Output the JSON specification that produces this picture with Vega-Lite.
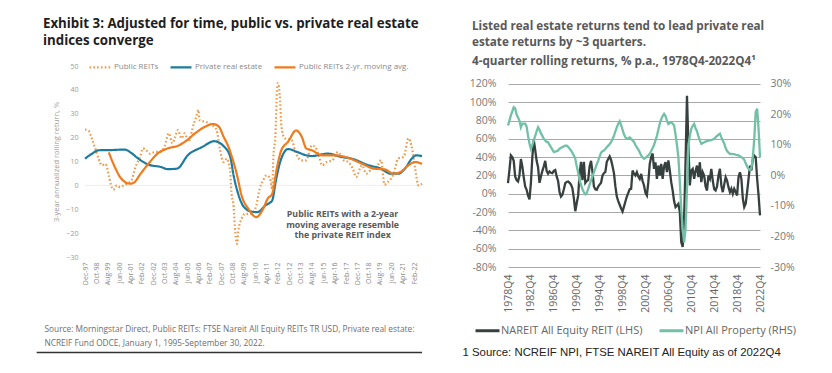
{
  "$schema": "https://vega.github.io/schema/vega-lite/v6.json",
  "background": "white",
  "padding": {"left": 35, "top": 16, "right": 0, "bottom": 0},
  "spacing": 35,
  "resolve": {"scale": {"color": "independent", "strokeDash": "independent"}, "legend": {"color": "independent", "strokeDash": "independent"}},
  "config": {
    "view": {"stroke": null},
    "font": "Open Sans",
    "axis": {"labelFont": "Open Sans", "titleFont": "Open Sans"},
    "legend": {"labelFont": "Open Sans"},
    "title": {"font": "Open Sans"}
  },
  "datasets": {
    "left": [
      {"date":"1997-12-01","series":"Public REITs","value":23.4},
      {"date":"1998-03-01","series":"Public REITs","value":23},
      {"date":"1998-06-01","series":"Public REITs","value":19.7},
      {"date":"1998-09-01","series":"Public REITs","value":15.5},
      {"date":"1998-12-01","series":"Public REITs","value":11.2},
      {"date":"1999-03-01","series":"Public REITs","value":8.4},
      {"date":"1999-06-01","series":"Public REITs","value":9.0},
      {"date":"1999-09-01","series":"Public REITs","value":4.2},
      {"date":"1999-11-01","series":"Public REITs","value":0},
      {"date":"2000-01-01","series":"Public REITs","value":-1.8},
      {"date":"2000-04-01","series":"Public REITs","value":0},
      {"date":"2000-07-01","series":"Public REITs","value":-0.7},
      {"date":"2000-10-01","series":"Public REITs","value":0},
      {"date":"2001-01-01","series":"Public REITs","value":0.7},
      {"date":"2001-05-01","series":"Public REITs","value":2.1},
      {"date":"2001-08-01","series":"Public REITs","value":7},
      {"date":"2002-01-01","series":"Public REITs","value":12.6},
      {"date":"2002-03-01","series":"Public REITs","value":15.5},
      {"date":"2002-06-01","series":"Public REITs","value":14.7},
      {"date":"2002-09-01","series":"Public REITs","value":13.3},
      {"date":"2003-02-01","series":"Public REITs","value":14},
      {"date":"2003-06-01","series":"Public REITs","value":14},
      {"date":"2003-10-01","series":"Public REITs","value":16.2},
      {"date":"2004-02-01","series":"Public REITs","value":21.8},
      {"date":"2004-05-01","series":"Public REITs","value":17.6},
      {"date":"2004-07-01","series":"Public REITs","value":19.7},
      {"date":"2004-10-01","series":"Public REITs","value":23.2},
      {"date":"2005-01-01","series":"Public REITs","value":19.7},
      {"date":"2005-04-01","series":"Public REITs","value":21.8},
      {"date":"2005-07-01","series":"Public REITs","value":18.3},
      {"date":"2005-12-01","series":"Public REITs","value":26},
      {"date":"2006-02-01","series":"Public REITs","value":28.8},
      {"date":"2006-04-01","series":"Public REITs","value":31.6},
      {"date":"2006-05-01","series":"Public REITs","value":27.4},
      {"date":"2006-11-01","series":"Public REITs","value":26.5},
      {"date":"2007-04-01","series":"Public REITs","value":25.3},
      {"date":"2007-08-01","series":"Public REITs","value":23.2},
      {"date":"2007-11-01","series":"Public REITs","value":15},
      {"date":"2008-02-01","series":"Public REITs","value":9.8},
      {"date":"2008-05-01","series":"Public REITs","value":11.2},
      {"date":"2008-08-01","series":"Public REITs","value":5.6},
      {"date":"2008-09-01","series":"Public REITs","value":-2.8},
      {"date":"2008-11-01","series":"Public REITs","value":-9.1},
      {"date":"2008-12-01","series":"Public REITs","value":-16.8},
      {"date":"2009-02-01","series":"Public REITs","value":-24.5},
      {"date":"2009-03-01","series":"Public REITs","value":-19.6},
      {"date":"2009-06-01","series":"Public REITs","value":-14},
      {"date":"2009-09-01","series":"Public REITs","value":-11.9},
      {"date":"2010-03-01","series":"Public REITs","value":-11.9},
      {"date":"2010-07-01","series":"Public REITs","value":-8.4},
      {"date":"2010-10-01","series":"Public REITs","value":-1.4},
      {"date":"2011-01-01","series":"Public REITs","value":2.1},
      {"date":"2011-04-01","series":"Public REITs","value":4.2},
      {"date":"2011-07-01","series":"Public REITs","value":3.0},
      {"date":"2011-09-01","series":"Public REITs","value":-1.4},
      {"date":"2011-10-01","series":"Public REITs","value":11.2},
      {"date":"2011-12-01","series":"Public REITs","value":22.5},
      {"date":"2012-01-01","series":"Public REITs","value":37.9},
      {"date":"2012-02-01","series":"Public REITs","value":42.8},
      {"date":"2012-04-01","series":"Public REITs","value":35.1},
      {"date":"2012-05-01","series":"Public REITs","value":25.3},
      {"date":"2012-08-01","series":"Public REITs","value":19.7},
      {"date":"2013-02-01","series":"Public REITs","value":19},
      {"date":"2013-06-01","series":"Public REITs","value":13.3},
      {"date":"2013-11-01","series":"Public REITs","value":10.5},
      {"date":"2014-03-01","series":"Public REITs","value":10.5},
      {"date":"2014-08-01","series":"Public REITs","value":16.8},
      {"date":"2014-11-01","series":"Public REITs","value":16},
      {"date":"2015-02-01","series":"Public REITs","value":12.6},
      {"date":"2015-05-01","series":"Public REITs","value":8.4},
      {"date":"2015-09-01","series":"Public REITs","value":9.8},
      {"date":"2016-02-01","series":"Public REITs","value":10.5},
      {"date":"2016-07-01","series":"Public REITs","value":14},
      {"date":"2016-12-01","series":"Public REITs","value":10.5},
      {"date":"2017-04-01","series":"Public REITs","value":9.8},
      {"date":"2017-08-01","series":"Public REITs","value":7},
      {"date":"2017-11-01","series":"Public REITs","value":3.5},
      {"date":"2018-04-01","series":"Public REITs","value":8.4},
      {"date":"2018-08-01","series":"Public REITs","value":4.9},
      {"date":"2019-01-01","series":"Public REITs","value":7},
      {"date":"2019-05-01","series":"Public REITs","value":7.7},
      {"date":"2019-09-01","series":"Public REITs","value":10.5},
      {"date":"2019-12-01","series":"Public REITs","value":0.3},
      {"date":"2020-03-01","series":"Public REITs","value":1.4},
      {"date":"2020-08-01","series":"Public REITs","value":4.9},
      {"date":"2020-12-01","series":"Public REITs","value":11.2},
      {"date":"2021-05-01","series":"Public REITs","value":12},
      {"date":"2021-09-01","series":"Public REITs","value":19.7},
      {"date":"2021-12-01","series":"Public REITs","value":16},
      {"date":"2022-03-01","series":"Public REITs","value":7},
      {"date":"2022-06-01","series":"Public REITs","value":0},
      {"date":"2022-09-01","series":"Public REITs","value":0.7},
      {"date":"1997-12-01","series":"Private real estate","value":11.2},
      {"date":"1998-06-01","series":"Private real estate","value":13.2},
      {"date":"1998-12-01","series":"Private real estate","value":14.7},
      {"date":"1999-11-01","series":"Private real estate","value":14.8},
      {"date":"2000-11-01","series":"Private real estate","value":15.0},
      {"date":"2001-05-01","series":"Private real estate","value":13.5},
      {"date":"2001-11-01","series":"Private real estate","value":11.2},
      {"date":"2002-08-01","series":"Private real estate","value":8.7},
      {"date":"2003-07-01","series":"Private real estate","value":7.7},
      {"date":"2004-01-01","series":"Private real estate","value":6.8},
      {"date":"2004-09-01","series":"Private real estate","value":7.0},
      {"date":"2005-07-01","series":"Private real estate","value":12.8},
      {"date":"2006-07-01","series":"Private real estate","value":16.0},
      {"date":"2007-06-01","series":"Private real estate","value":18.5},
      {"date":"2008-02-01","series":"Private real estate","value":16.5},
      {"date":"2008-08-01","series":"Private real estate","value":12.0},
      {"date":"2008-11-01","series":"Private real estate","value":4.0},
      {"date":"2009-03-01","series":"Private real estate","value":-3.5},
      {"date":"2009-08-01","series":"Private real estate","value":-9.0},
      {"date":"2010-03-01","series":"Private real estate","value":-11.0},
      {"date":"2010-08-01","series":"Private real estate","value":-11.2},
      {"date":"2011-03-01","series":"Private real estate","value":-8.4},
      {"date":"2011-09-01","series":"Private real estate","value":-6.3},
      {"date":"2011-12-01","series":"Private real estate","value":1.4},
      {"date":"2012-04-01","series":"Private real estate","value":9.8},
      {"date":"2012-11-01","series":"Private real estate","value":15.2},
      {"date":"2013-07-01","series":"Private real estate","value":14.0},
      {"date":"2014-03-01","series":"Private real estate","value":12.6},
      {"date":"2014-08-01","series":"Private real estate","value":12.3},
      {"date":"2015-10-01","series":"Private real estate","value":13.3},
      {"date":"2016-10-01","series":"Private real estate","value":11.9},
      {"date":"2017-07-01","series":"Private real estate","value":11.2},
      {"date":"2018-10-01","series":"Private real estate","value":8.4},
      {"date":"2019-09-01","series":"Private real estate","value":7.0},
      {"date":"2020-05-01","series":"Private real estate","value":4.9},
      {"date":"2020-12-01","series":"Private real estate","value":4.9},
      {"date":"2021-06-01","series":"Private real estate","value":7.0},
      {"date":"2021-12-01","series":"Private real estate","value":11.2},
      {"date":"2022-04-01","series":"Private real estate","value":12.6},
      {"date":"2022-09-01","series":"Private real estate","value":12.2},
      {"date":"1999-09-01","series":"Public REITs 2-yr. moving avg.","value":13.8},
      {"date":"2000-03-01","series":"Public REITs 2-yr. moving avg.","value":7.0},
      {"date":"2000-08-01","series":"Public REITs 2-yr. moving avg.","value":2.8},
      {"date":"2001-04-01","series":"Public REITs 2-yr. moving avg.","value":0.7},
      {"date":"2001-07-01","series":"Public REITs 2-yr. moving avg.","value":1.1},
      {"date":"2002-01-01","series":"Public REITs 2-yr. moving avg.","value":4.9},
      {"date":"2002-08-01","series":"Public REITs 2-yr. moving avg.","value":9.1},
      {"date":"2003-04-01","series":"Public REITs 2-yr. moving avg.","value":13.3},
      {"date":"2004-01-01","series":"Public REITs 2-yr. moving avg.","value":15.5},
      {"date":"2004-10-01","series":"Public REITs 2-yr. moving avg.","value":16.6},
      {"date":"2005-05-01","series":"Public REITs 2-yr. moving avg.","value":18.6},
      {"date":"2006-01-01","series":"Public REITs 2-yr. moving avg.","value":21.8},
      {"date":"2006-10-01","series":"Public REITs 2-yr. moving avg.","value":24.6},
      {"date":"2007-05-01","series":"Public REITs 2-yr. moving avg.","value":25.7},
      {"date":"2007-10-01","series":"Public REITs 2-yr. moving avg.","value":24.6},
      {"date":"2008-02-01","series":"Public REITs 2-yr. moving avg.","value":20.5},
      {"date":"2008-07-01","series":"Public REITs 2-yr. moving avg.","value":15.5},
      {"date":"2008-09-01","series":"Public REITs 2-yr. moving avg.","value":12.6},
      {"date":"2009-02-01","series":"Public REITs 2-yr. moving avg.","value":4.2},
      {"date":"2009-06-01","series":"Public REITs 2-yr. moving avg.","value":-4.2},
      {"date":"2009-12-01","series":"Public REITs 2-yr. moving avg.","value":-9.8},
      {"date":"2010-07-01","series":"Public REITs 2-yr. moving avg.","value":-13.3},
      {"date":"2011-01-01","series":"Public REITs 2-yr. moving avg.","value":-9.8},
      {"date":"2011-05-01","series":"Public REITs 2-yr. moving avg.","value":-5.6},
      {"date":"2011-09-01","series":"Public REITs 2-yr. moving avg.","value":-3.5},
      {"date":"2012-01-01","series":"Public REITs 2-yr. moving avg.","value":7.0},
      {"date":"2012-05-01","series":"Public REITs 2-yr. moving avg.","value":14.7},
      {"date":"2012-11-01","series":"Public REITs 2-yr. moving avg.","value":18.3},
      {"date":"2013-06-01","series":"Public REITs 2-yr. moving avg.","value":23.0},
      {"date":"2013-11-01","series":"Public REITs 2-yr. moving avg.","value":20.4},
      {"date":"2014-03-01","series":"Public REITs 2-yr. moving avg.","value":15.5},
      {"date":"2014-08-01","series":"Public REITs 2-yr. moving avg.","value":14.7},
      {"date":"2015-05-01","series":"Public REITs 2-yr. moving avg.","value":12.6},
      {"date":"2016-04-01","series":"Public REITs 2-yr. moving avg.","value":12.6},
      {"date":"2017-04-01","series":"Public REITs 2-yr. moving avg.","value":11.5},
      {"date":"2018-04-01","series":"Public REITs 2-yr. moving avg.","value":9.1},
      {"date":"2019-03-01","series":"Public REITs 2-yr. moving avg.","value":7.0},
      {"date":"2019-12-01","series":"Public REITs 2-yr. moving avg.","value":6.7},
      {"date":"2020-08-01","series":"Public REITs 2-yr. moving avg.","value":4.9},
      {"date":"2021-02-01","series":"Public REITs 2-yr. moving avg.","value":5.6},
      {"date":"2021-09-01","series":"Public REITs 2-yr. moving avg.","value":8.4},
      {"date":"2022-03-01","series":"Public REITs 2-yr. moving avg.","value":9.8},
      {"date":"2022-09-01","series":"Public REITs 2-yr. moving avg.","value":9.0}
    ],
    "right": [
      {"quarter":"1978Q4","reit":11.6,"npi":16.4},
      {"quarter":"1979Q1","reit":26,"npi":18},
      {"quarter":"1979Q2","reit":42,"npi":19.7},
      {"quarter":"1979Q3","reit":40,"npi":21},
      {"quarter":"1979Q4","reit":36,"npi":22.4},
      {"quarter":"1980Q1","reit":19,"npi":22},
      {"quarter":"1980Q2","reit":15,"npi":20},
      {"quarter":"1980Q3","reit":13.5,"npi":19},
      {"quarter":"1980Q4","reit":20,"npi":18},
      {"quarter":"1981Q1","reit":38,"npi":15.8},
      {"quarter":"1981Q2","reit":30,"npi":17},
      {"quarter":"1981Q3","reit":18,"npi":17},
      {"quarter":"1981Q4","reit":8,"npi":17},
      {"quarter":"1982Q1","reit":4.4,"npi":16},
      {"quarter":"1982Q2","reit":-2,"npi":13},
      {"quarter":"1982Q3","reit":-6,"npi":10.5},
      {"quarter":"1982Q4","reit":12,"npi":8.7},
      {"quarter":"1983Q1","reit":40,"npi":10},
      {"quarter":"1983Q2","reit":59,"npi":11.5},
      {"quarter":"1983Q3","reit":48,"npi":13},
      {"quarter":"1983Q4","reit":36,"npi":14.5},
      {"quarter":"1984Q1","reit":29,"npi":15.8},
      {"quarter":"1984Q2","reit":12,"npi":15},
      {"quarter":"1984Q3","reit":19,"npi":13.8},
      {"quarter":"1984Q4","reit":25,"npi":13},
      {"quarter":"1985Q1","reit":30,"npi":12},
      {"quarter":"1985Q2","reit":36,"npi":11.5},
      {"quarter":"1985Q3","reit":25,"npi":11},
      {"quarter":"1985Q4","reit":22,"npi":10.9},
      {"quarter":"1986Q1","reit":24.4,"npi":10},
      {"quarter":"1986Q2","reit":23,"npi":9.3},
      {"quarter":"1986Q3","reit":22.6,"npi":8.5},
      {"quarter":"1986Q4","reit":25,"npi":7.7},
      {"quarter":"1987Q1","reit":26,"npi":7.8},
      {"quarter":"1987Q2","reit":19,"npi":8},
      {"quarter":"1987Q3","reit":14,"npi":8.2},
      {"quarter":"1987Q4","reit":2,"npi":8.8},
      {"quarter":"1988Q1","reit":-3,"npi":9.1},
      {"quarter":"1988Q2","reit":-1,"npi":9.3},
      {"quarter":"1988Q3","reit":5,"npi":9.6},
      {"quarter":"1988Q4","reit":11.6,"npi":9.8},
      {"quarter":"1989Q1","reit":13,"npi":9.8},
      {"quarter":"1989Q2","reit":13.5,"npi":9.4},
      {"quarter":"1989Q3","reit":12,"npi":8.8},
      {"quarter":"1989Q4","reit":10,"npi":8.2},
      {"quarter":"1990Q1","reit":6,"npi":7.4},
      {"quarter":"1990Q2","reit":-5,"npi":6.6},
      {"quarter":"1990Q3","reit":-19,"npi":5.5},
      {"quarter":"1990Q4","reit":-10,"npi":3},
      {"quarter":"1991Q1","reit":-2,"npi":1},
      {"quarter":"1991Q2","reit":22,"npi":-1.6},
      {"quarter":"1991Q3","reit":35,"npi":-3},
      {"quarter":"1991Q4","reit":15,"npi":-4.5},
      {"quarter":"1992Q1","reit":35,"npi":-5.5},
      {"quarter":"1992Q2","reit":12,"npi":-6.2},
      {"quarter":"1992Q3","reit":14,"npi":-5.8},
      {"quarter":"1992Q4","reit":15,"npi":-4.4},
      {"quarter":"1993Q1","reit":30,"npi":-3},
      {"quarter":"1993Q2","reit":36,"npi":-1.6},
      {"quarter":"1993Q3","reit":24,"npi":-0.2},
      {"quarter":"1993Q4","reit":8,"npi":1},
      {"quarter":"1994Q1","reit":5,"npi":2.3},
      {"quarter":"1994Q2","reit":4.4,"npi":3.7},
      {"quarter":"1994Q3","reit":8,"npi":4.9},
      {"quarter":"1994Q4","reit":10,"npi":6.2},
      {"quarter":"1995Q1","reit":12,"npi":7.5},
      {"quarter":"1995Q2","reit":20,"npi":8},
      {"quarter":"1995Q3","reit":22.6,"npi":8.2},
      {"quarter":"1995Q4","reit":24,"npi":8.7},
      {"quarter":"1996Q1","reit":35,"npi":9.3},
      {"quarter":"1996Q2","reit":38,"npi":9.8},
      {"quarter":"1996Q3","reit":40.8,"npi":10.3},
      {"quarter":"1996Q4","reit":37,"npi":10.9},
      {"quarter":"1997Q1","reit":30,"npi":12},
      {"quarter":"1997Q2","reit":22.6,"npi":13},
      {"quarter":"1997Q3","reit":8,"npi":14.5},
      {"quarter":"1997Q4","reit":-3,"npi":15.8},
      {"quarter":"1998Q1","reit":-8,"npi":17},
      {"quarter":"1998Q2","reit":-12,"npi":17.8},
      {"quarter":"1998Q3","reit":-16,"npi":16.5},
      {"quarter":"1998Q4","reit":-19.3,"npi":15},
      {"quarter":"1999Q1","reit":-14,"npi":13.5},
      {"quarter":"1999Q2","reit":-8.4,"npi":12.5},
      {"quarter":"1999Q3","reit":-3,"npi":12},
      {"quarter":"1999Q4","reit":1,"npi":12.2},
      {"quarter":"2000Q1","reit":5,"npi":12.5},
      {"quarter":"2000Q2","reit":5.5,"npi":12},
      {"quarter":"2000Q3","reit":25.5,"npi":11.5},
      {"quarter":"2000Q4","reit":22,"npi":11},
      {"quarter":"2001Q1","reit":20,"npi":10},
      {"quarter":"2001Q2","reit":23.6,"npi":9.2},
      {"quarter":"2001Q3","reit":19,"npi":8.5},
      {"quarter":"2001Q4","reit":16.4,"npi":7.6},
      {"quarter":"2002Q1","reit":21.8,"npi":6.6},
      {"quarter":"2002Q2","reit":14,"npi":6},
      {"quarter":"2002Q3","reit":9.1,"npi":5.5},
      {"quarter":"2002Q4","reit":1,"npi":5.8},
      {"quarter":"2003Q1","reit":-1.8,"npi":6.2},
      {"quarter":"2003Q2","reit":12.7,"npi":6.6},
      {"quarter":"2003Q3","reit":32.7,"npi":7.1},
      {"quarter":"2003Q4","reit":40,"npi":8},
      {"quarter":"2004Q1","reit":44,"npi":9},
      {"quarter":"2004Q2","reit":27.3,"npi":10},
      {"quarter":"2004Q3","reit":34.5,"npi":11.5},
      {"quarter":"2004Q4","reit":16.4,"npi":13},
      {"quarter":"2005Q1","reit":30.9,"npi":15},
      {"quarter":"2005Q2","reit":20,"npi":17},
      {"quarter":"2005Q3","reit":32.7,"npi":18.5},
      {"quarter":"2005Q4","reit":16.4,"npi":19.5},
      {"quarter":"2006Q1","reit":30,"npi":20.2},
      {"quarter":"2006Q2","reit":34.5,"npi":19.5},
      {"quarter":"2006Q3","reit":23.6,"npi":18},
      {"quarter":"2006Q4","reit":36.4,"npi":16.9},
      {"quarter":"2007Q1","reit":25.5,"npi":17.2},
      {"quarter":"2007Q2","reit":12.7,"npi":17.5},
      {"quarter":"2007Q3","reit":3.6,"npi":17},
      {"quarter":"2007Q4","reit":-8,"npi":16.4},
      {"quarter":"2008Q1","reit":-14.5,"npi":13.5},
      {"quarter":"2008Q2","reit":-12.7,"npi":10},
      {"quarter":"2008Q3","reit":-10.9,"npi":6},
      {"quarter":"2008Q4","reit":-20,"npi":-2},
      {"quarter":"2009Q1","reit":-52.7,"npi":-11},
      {"quarter":"2009Q2","reit":-58.2,"npi":-17.5},
      {"quarter":"2009Q3","reit":-27,"npi":-21.9},
      {"quarter":"2009Q4","reit":34.5,"npi":-17.5},
      {"quarter":"2010Q1","reit":107,"npi":-4.4},
      {"quarter":"2010Q2","reit":52.7,"npi":9.8},
      {"quarter":"2010Q3","reit":9.1,"npi":13},
      {"quarter":"2010Q4","reit":25.5,"npi":15.3},
      {"quarter":"2011Q1","reit":27.3,"npi":16.3},
      {"quarter":"2011Q2","reit":16.4,"npi":16.9},
      {"quarter":"2011Q3","reit":25,"npi":15.5},
      {"quarter":"2011Q4","reit":30.9,"npi":14.5},
      {"quarter":"2012Q1","reit":18.2,"npi":12.8},
      {"quarter":"2012Q2","reit":34.5,"npi":11.5},
      {"quarter":"2012Q3","reit":12.7,"npi":10.4},
      {"quarter":"2012Q4","reit":23.6,"npi":10.6},
      {"quarter":"2013Q1","reit":20,"npi":10.9},
      {"quarter":"2013Q2","reit":8,"npi":11.1},
      {"quarter":"2013Q3","reit":3.6,"npi":11.3},
      {"quarter":"2013Q4","reit":20,"npi":11.4},
      {"quarter":"2014Q1","reit":16.4,"npi":11.5},
      {"quarter":"2014Q2","reit":27.3,"npi":11.6},
      {"quarter":"2014Q3","reit":14.5,"npi":11.8},
      {"quarter":"2014Q4","reit":5,"npi":12},
      {"quarter":"2015Q1","reit":3.6,"npi":12.5},
      {"quarter":"2015Q2","reit":8,"npi":13},
      {"quarter":"2015Q3","reit":20,"npi":13.4},
      {"quarter":"2015Q4","reit":27.3,"npi":13.7},
      {"quarter":"2016Q1","reit":9.1,"npi":12.5},
      {"quarter":"2016Q2","reit":1.8,"npi":11.5},
      {"quarter":"2016Q3","reit":10,"npi":10.5},
      {"quarter":"2016Q4","reit":18.2,"npi":9},
      {"quarter":"2017Q1","reit":14.5,"npi":8},
      {"quarter":"2017Q2","reit":7.3,"npi":7.5},
      {"quarter":"2017Q3","reit":1.8,"npi":7.1},
      {"quarter":"2017Q4","reit":5.5,"npi":7.1},
      {"quarter":"2018Q1","reit":0,"npi":7},
      {"quarter":"2018Q2","reit":5.5,"npi":7},
      {"quarter":"2018Q3","reit":2,"npi":6.8},
      {"quarter":"2018Q4","reit":-1.8,"npi":6.7},
      {"quarter":"2019Q1","reit":18.2,"npi":6.6},
      {"quarter":"2019Q2","reit":23.6,"npi":6.3},
      {"quarter":"2019Q3","reit":16.4,"npi":6},
      {"quarter":"2019Q4","reit":-5,"npi":5.7},
      {"quarter":"2020Q1","reit":-14.5,"npi":5.2},
      {"quarter":"2020Q2","reit":-10.9,"npi":4},
      {"quarter":"2020Q3","reit":1.8,"npi":3},
      {"quarter":"2020Q4","reit":16.4,"npi":2.2},
      {"quarter":"2021Q1","reit":30.9,"npi":1.8},
      {"quarter":"2021Q2","reit":25.5,"npi":2.5},
      {"quarter":"2021Q3","reit":38.2,"npi":6},
      {"quarter":"2021Q4","reit":41.8,"npi":12},
      {"quarter":"2022Q1","reit":40,"npi":20.8},
      {"quarter":"2022Q2","reit":16.4,"npi":21.9},
      {"quarter":"2022Q3","reit":-1.8,"npi":15.3},
      {"quarter":"2022Q4","reit":-23.6,"npi":6}
    ]
  },
  "hconcat": [
    {
      "width": 337,
      "height": 191,
      "title": {
        "text": ["Exhibit 3: Adjusted for time, public vs. private real estate", "indices converge"],
        "anchor": "start",
        "frame": "bounds",
        "font": "Open Sans",
        "fontSize": 13.3,
        "fontWeight": 700,
        "color": "#1e1e1e",
        "lineHeight": 17,
        "offset": 8,
        "dx": 7
      },
      "resolve": {"axis": {"x": "independent", "y": "independent"}},
      "layer": [
        {
          "data": {"values": [{}]},
          "mark": {"type": "rule", "color": "#ececec", "strokeWidth": 1},
          "encoding": {"y": {"datum": 0, "type": "quantitative", "axis": null}}
        },
        {
          "data": {"name": "left"},
          "mark": {"type": "line", "strokeWidth": 2.2, "interpolate": "monotone"},
          "encoding": {
            "x": {
              "field": "date",
              "type": "temporal",
              "scale": {"type": "utc", "domain": [{"year": 1997, "month": 12, "date": 1, "utc": true}, {"year": 2022, "month": 9, "date": 1, "utc": true}]},
              "axis": {
                "values": [
                  {"year":1997,"month":12,"date":1,"utc":true},{"year":1998,"month":10,"date":1,"utc":true},{"year":1999,"month":8,"date":1,"utc":true},
                  {"year":2000,"month":6,"date":1,"utc":true},{"year":2001,"month":4,"date":1,"utc":true},{"year":2002,"month":2,"date":1,"utc":true},
                  {"year":2002,"month":12,"date":1,"utc":true},{"year":2003,"month":10,"date":1,"utc":true},{"year":2004,"month":8,"date":1,"utc":true},
                  {"year":2005,"month":6,"date":1,"utc":true},{"year":2006,"month":4,"date":1,"utc":true},{"year":2007,"month":2,"date":1,"utc":true},
                  {"year":2007,"month":12,"date":1,"utc":true},{"year":2008,"month":10,"date":1,"utc":true},{"year":2009,"month":8,"date":1,"utc":true},
                  {"year":2010,"month":6,"date":1,"utc":true},{"year":2011,"month":4,"date":1,"utc":true},{"year":2012,"month":2,"date":1,"utc":true},
                  {"year":2012,"month":12,"date":1,"utc":true},{"year":2013,"month":10,"date":1,"utc":true},{"year":2014,"month":8,"date":1,"utc":true},
                  {"year":2015,"month":6,"date":1,"utc":true},{"year":2016,"month":4,"date":1,"utc":true},{"year":2017,"month":2,"date":1,"utc":true},
                  {"year":2017,"month":12,"date":1,"utc":true},{"year":2018,"month":10,"date":1,"utc":true},{"year":2019,"month":8,"date":1,"utc":true},
                  {"year":2020,"month":6,"date":1,"utc":true},{"year":2021,"month":4,"date":1,"utc":true},{"year":2022,"month":2,"date":1,"utc":true}
                ],
                "labelExpr": "utcFormat(datum.value, '%b-%y')",
                "labelAngle": 270,
                "labelFontSize": 7,
                "labelColor": "#8a8a8a",
                "labelPadding": 5,
                "labelOverlap": false,
                "ticks": false,
                "domain": false,
                "grid": false,
                "title": ["Source: Morningstar Direct, Public REITs: FTSE Nareit All Equity REITs TR USD, Private real estate:", "NCREIF Fund ODCE, January 1, 1995-September 30, 2022."],
                "titleFontSize": 8.3,
                "titleFontWeight": "normal",
                "titleColor": "#6e6e6e",
                "titleAnchor": "start",
                "titleAlign": "left",
                "titleBaseline": "top",
                "titleLineHeight": 14,
                "titleX": -41,
                "titleY": 67
              }
            },
            "y": {
              "field": "value",
              "type": "quantitative",
              "scale": {"domain": [-30, 50], "nice": false, "zero": false},
              "axis": {
                "values": [-30, -20, -10, 0, 10, 20, 30, 40, 50],
                "labelOverlap": false,
                "grid": false,
                "ticks": false,
                "domain": false,
                "labelFontSize": 7,
                "labelColor": "#9a9a9a",
                "labelPadding": 7,
                "title": "3-year annualized rolling return, %",
                "titleFontSize": 7.5,
                "titleFontWeight": "normal",
                "titleColor": "#9a9a9a",
                "titlePadding": 5
              }
            },
            "color": {
              "field": "series",
              "type": "nominal",
              "scale": {"domain": ["Public REITs", "Private real estate", "Public REITs 2-yr. moving avg."], "range": ["#f09a4a", "#1c7b9f", "#f07b1c"]},
              "legend": {"orient": "none", "legendX": 3, "legendY": -11, "direction": "horizontal", "title": null, "symbolType": "stroke", "symbolSize": 440, "symbolStrokeWidth": 2.2, "labelFontSize": 8, "labelColor": "#8a8a8a", "labelOffset": 2, "columnPadding": 7}
            },
            "strokeDash": {
              "field": "series",
              "type": "nominal",
              "scale": {"domain": ["Public REITs", "Private real estate", "Public REITs 2-yr. moving avg."], "range": [[1.6, 2.2], [1, 0], [1, 0]]},
              "legend": {"orient": "none", "legendX": 3, "legendY": -11, "direction": "horizontal", "title": null, "symbolType": "stroke", "symbolSize": 440, "symbolStrokeWidth": 2.2, "labelFontSize": 8, "labelColor": "#8a8a8a", "labelOffset": 2, "columnPadding": 7}
            }
          }
        },
        {
          "data": {"values": [{}]},
          "mark": {"type": "text", "text": ["Public REITs with a 2-year", "moving average resemble", "the private REIT index"], "font": "Open Sans", "fontWeight": 700, "fontSize": 8.8, "lineHeight": 10.5, "color": "#5a5a5a", "align": "center", "baseline": "middle"},
          "encoding": {
            "x": {"datum": {"year": 2016, "month": 11, "date": 1, "utc": true}, "type": "temporal", "axis": null},
            "y": {"datum": -12.1, "type": "quantitative", "axis": null}
          }
        },
        {
          "data": {"values": [{}]},
          "mark": {"type": "rule", "color": "#333333", "strokeWidth": 1.5},
          "encoding": {
            "x": {"datum": {"year": 1994, "month": 5, "date": 15, "utc": true}, "type": "temporal", "axis": null},
            "x2": {"datum": {"year": 2022, "month": 9, "date": 1, "utc": true}},
            "y": {"datum": -70, "type": "quantitative", "axis": null}
          }
        }
      ]
    },
    {
      "width": 252,
      "height": 201,
      "title": {
        "text": ["Listed real estate returns tend to lead private real", "estate returns by ~3 quarters."],
        "subtitle": "4-quarter rolling returns, % p.a., 1978Q4-2022Q4¹",
        "anchor": "start",
        "frame": "bounds",
        "font": "Open Sans",
        "fontSize": 11.7,
        "fontWeight": 700,
        "color": "#595959",
        "lineHeight": 15.5,
        "subtitleFont": "Open Sans",
        "subtitleFontSize": 11.7,
        "subtitleFontWeight": 700,
        "subtitleColor": "#595959",
        "subtitlePadding": 8,
        "offset": -2,
        "dx": 10
      },
      "data": {"name": "right"},
      "encoding": {
        "x": {
          "field": "quarter",
          "type": "ordinal",
          "sort": null,
          "scale": {"type": "point", "padding": 0},
          "axis": {
            "values": ["1978Q4", "1982Q4", "1986Q4", "1990Q4", "1994Q4", "1998Q4", "2002Q4", "2006Q4", "2010Q4", "2014Q4", "2018Q4", "2022Q4"],
            "labelAngle": 270,
            "labelFontSize": 10.5,
            "labelColor": "#666666",
            "labelPadding": 7,
            "ticks": false,
            "domain": false,
            "grid": false,
            "title": "1 Source: NCREIF NPI, FTSE NAREIT All Equity as of 2022Q4",
            "titleFont": "Liberation Sans",
            "titleFontSize": 11.4,
            "titleFontWeight": "normal",
            "titleColor": "#222222",
            "titleAnchor": "start",
            "titleAlign": "left",
            "titleBaseline": "middle",
            "titleX": -46,
            "titleY": 85
          }
        }
      },
      "layer": [
        {
          "mark": {"type": "line", "strokeWidth": 2.3},
          "encoding": {
            "y": {
              "field": "reit",
              "type": "quantitative",
              "scale": {"domain": [-80, 139.67], "nice": false, "zero": false},
              "axis": {
                "values": [-80, -60, -40, -20, 0, 20, 40, 60, 80, 100, 120],
                "labelExpr": "datum.value + '%'",
                "labelOverlap": false,
                "grid": true,
                "gridColor": "#a8a8a8",
                "gridWidth": 1,
                "ticks": false,
                "domain": false,
                "labelFontSize": 10.5,
                "labelColor": "#777777",
                "labelPadding": 12,
                "title": null
              }
            },
            "color": {
              "datum": "NAREIT All Equity REIT (LHS)",
              "type": "nominal",
              "scale": {"domain": ["NAREIT All Equity REIT (LHS)", "NPI All Property (RHS)"], "range": ["#36413f", "#72c0a5"]},
              "legend": {"orient": "none", "legendX": -34, "legendY": 251, "direction": "horizontal", "title": null, "symbolType": "stroke", "symbolSize": 576, "symbolStrokeWidth": 3, "labelFontSize": 11, "labelColor": "#666666", "labelOffset": 0, "columnPadding": 10}
            }
          }
        },
        {
          "mark": {"type": "line", "strokeWidth": 2.3},
          "encoding": {
            "y": {
              "field": "npi",
              "type": "quantitative",
              "scale": {"domain": [-30, 35.9], "nice": false, "zero": false},
              "axis": {
                "orient": "right",
                "values": [-30, -20, -10, 0, 10, 20, 30],
                "labelExpr": "datum.value + '%'",
                "labelOverlap": false,
                "grid": false,
                "ticks": false,
                "domain": false,
                "labelFontSize": 10.5,
                "labelColor": "#777777",
                "labelPadding": 10,
                "title": null
              }
            },
            "color": {"datum": "NPI All Property (RHS)", "type": "nominal"}
          }
        }
      ],
      "resolve": {"scale": {"y": "independent"}}
    }
  ]
}
